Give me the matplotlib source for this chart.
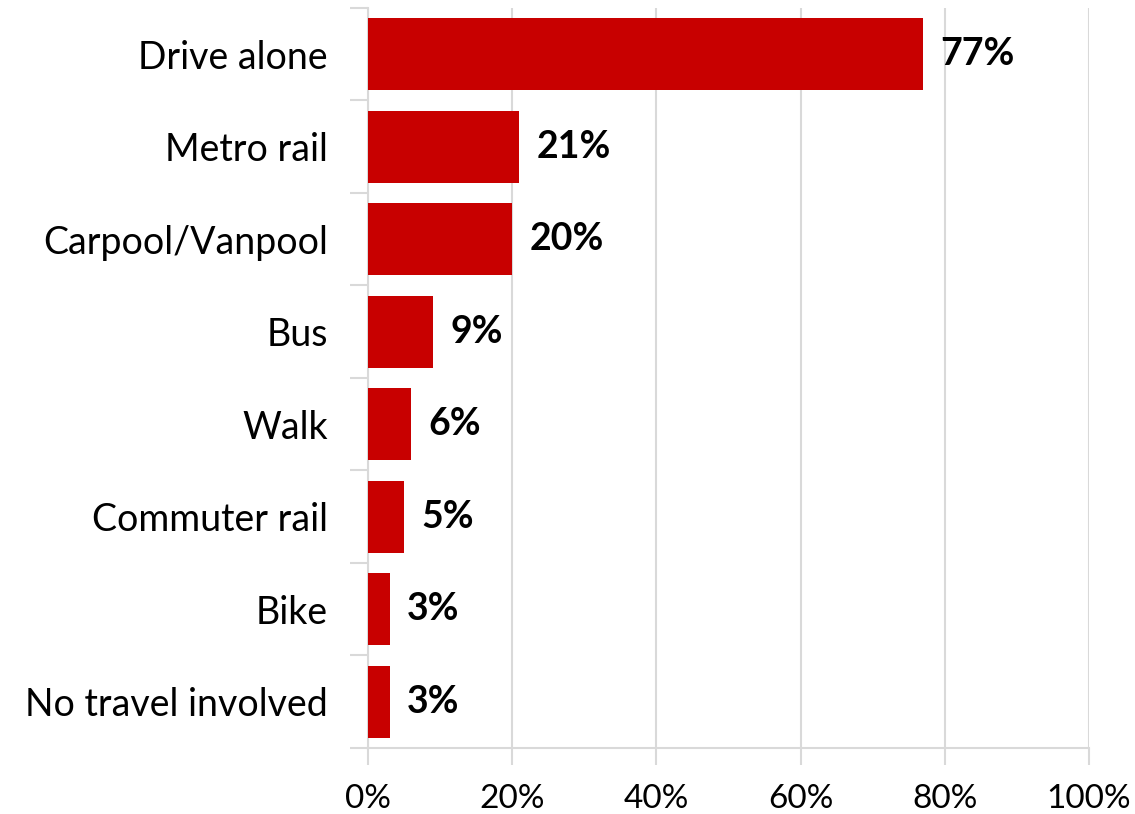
import matplotlib.pyplot as plt
import numpy as np

categories = ["Drive alone", "Metro rail", "Carpool/Vanpool", "Bus", "Walk",
              "Commuter rail", "Bike", "No travel involved"]
values = [77, 21, 20, 9, 6, 5, 3, 3]
xticks = [0, 20, 40, 60, 80, 100]

plt.rcParams['font.family'] = ['Lato', 'DejaVu Sans']

fig = plt.figure(figsize=(11.35, 8.14), dpi=100)
ax = fig.add_axes([0.3242, 0.0811, 0.6353, 0.9091])

pos = np.arange(len(categories))
ax.barh(pos, values, height=0.78, color="#C80000", zorder=3)
for p, v in zip(pos, values):
    ax.text(v + 2.4, p, "%d%%" % v, va="center", ha="left",
            fontsize=27, fontweight="bold", color="black")

ax.set_ylim(len(categories) - 0.5, -0.5)
ax.set_xlim(0, 100)
ax.set_xticks(xticks)
ax.set_xticklabels(["%d%%" % t for t in xticks], fontsize=24)
ax.set_yticks(pos)
ax.set_yticklabels(categories, fontsize=27)
ax.tick_params(axis="y", length=0, pad=29)
ax.set_yticks(np.arange(len(categories) + 1) - 0.5, minor=True)
ax.tick_params(axis="y", which="minor", length=13, width=1.5, color="#D9D9D9")
ax.tick_params(axis="x", length=12, width=1.5, color="#D9D9D9", pad=14)

ax.grid(axis="x", color="#D9D9D9", lw=1.5, zorder=0)
for s in ["top", "right"]:
    ax.spines[s].set_visible(False)
for s in ["left", "bottom"]:
    ax.spines[s].set_color("#D9D9D9")
    ax.spines[s].set_linewidth(1.5)

fig.savefig("out.png", dpi=100)
